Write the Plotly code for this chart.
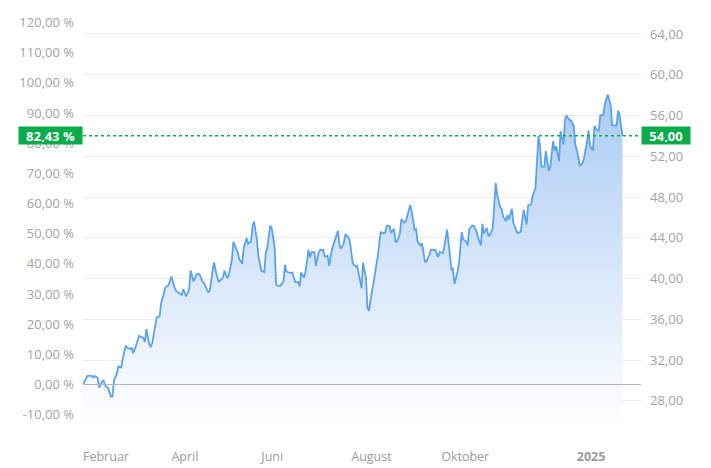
import pandas as pd
import plotly.graph_objects as go

# ---- data ----
start_date = "2024-02-01"
day_offsets = [0,3,6,7,8,10,11,13,14,15,17,19,20,21,23,24,26,27,29,30,32,33,34,36,38,41,42,43,45,46,47,49,50,52,53,55,56,58,59,60,
               62,63,65,67,68,70,72,73,75,76,77,79,81,82,83,85,86,88,89,90,92,94,95,96,98,99,101,102,104,105,106,108,109,111,112,114,115,116,118,119,
               121,123,124,125,127,128,130,131,132,134,136,137,138,140,141,142,144,146,147,148,150,151,153,154,155,157,158,160,161,163,164,166,167,169,170,171,173,174,175,177,
               178,180,181,183,185,186,188,189,190,192,193,194,196,197,199,200,202,203,205,206,208,209,211,212,213,215,216,218,219,221,222,223,225,226,227,229,230,232,233,235,
               236,238,239,241,242,244,245,247,248,250,251,252,254,255,257,258,260,261,262,264,265,267,268,270,271,272,274,275,276,278,280,281,283,284,285,287,288,289,291,292,
               294,295,297,298,299,301,302,304,305,307,308,309,310,311,313,314,316,317,319,320,321,323,324,326,327,328,330,331,333,334,336,337,339,340,342,343,344,346,347,349,
               350,351,353,354,356,358,359,360,362,363,364,366]
prices = [29.60,30.45,30.45,30.29,30.45,30.23,29.31,29.89,29.99,29.50,29.25,28.42,28.42,29.99,30.72,31.37,31.27,32.19,33.40,33.23,
          33.07,33.23,32.68,33.40,34.38,34.15,33.76,35.04,33.50,33.33,33.66,35.29,36.21,36.27,37.59,38.57,39.16,39.35,39.71,40.20,
          39.16,38.82,38.57,38.40,38.96,38.24,38.89,40.79,39.71,40.20,40.43,40.43,39.71,39.61,39.22,38.67,38.79,40.86,41.57,40.76,
          39.65,39.94,40.14,40.76,40.04,40.37,41.84,43.60,42.82,42.59,41.91,41.44,42.99,43.97,43.41,43.63,45.10,45.60,43.80,42.16,
          40.76,40.63,42.49,42.99,45.20,44.95,43.14,39.45,39.29,39.31,39.71,41.35,40.69,40.63,40.53,40.59,39.65,39.65,39.22,40.59,
          40.10,40.69,42.82,42.06,42.59,42.59,41.25,42.59,42.82,42.82,42.16,42.23,41.25,42.92,43.31,43.90,44.68,43.31,42.92,43.48,
          44.36,44.06,43.70,41.51,41.18,41.25,39.87,39.06,41.57,40.04,37.10,36.83,38.73,39.45,41.35,42.16,44.61,44.46,44.46,45.17,
          45.17,44.46,44.88,43.63,43.63,44.36,45.83,45.50,45.60,46.91,47.23,46.58,44.78,44.85,43.63,43.24,43.48,41.67,41.67,42.33,
          42.82,42.82,42.82,42.11,42.59,42.49,43.01,44.81,43.34,40.89,40.95,39.48,40.56,41.38,44.58,43.83,43.60,43.24,44.81,45.20,
          45.20,44.65,44.00,43.28,45.37,44.42,44.98,44.22,44.22,44.98,49.39,48.25,47.01,46.87,46.13,45.63,46.22,45.79,46.84,45.47,
          44.71,44.46,44.58,45.79,46.77,45.30,47.20,47.26,48.09,48.90,52.17,53.98,53.15,50.99,50.99,52.50,50.54,50.93,53.49,52.56,
          53.00,51.52,54.47,53.15,55.55,56.00,55.55,55.55,54.96,53.15,52.01,51.03,51.36,51.85,53.49,54.53,53.00,52.56,54.96,54.53,
          54.53,56.04,56.04,57.08,58.06,57.08,55.02,55.02,55.02,56.49,56.10,54.00]

base_price = 29.60          # price at 0 %
last_price = 54.00
last_pct_text = "82,43 %"
last_price_text = "54,00"

price_ticks = [28, 32, 36, 40, 44, 48, 52, 56, 60, 64]
price_tick_text = ["28,00", "32,00", "36,00", "40,00", "44,00", "48,00", "52,00", "56,00", "60,00", "64,00"]
pct_ticks = [-10, 0, 10, 20, 30, 40, 50, 60, 70, 80, 90, 100, 110, 120]
pct_tick_text = ["-10,00 %", "0,00 %", "10,00 %", "20,00 %", "30,00 %", "40,00 %", "50,00 %", "60,00 %",
                 "70,00 %", "80,00 %", "90,00 %", "100,00 %", "110,00 %", "120,00 %"]
month_ticks = ["2024-02-01", "2024-04-01", "2024-06-01", "2024-08-01", "2024-10-01", "2025-01-01"]
month_tick_text = ["Februar", "April", "Juni", "August", "Oktober", "<b>2025</b>"]

# ---- figure ----
dates = pd.Timestamp(start_date) + pd.to_timedelta(day_offsets, unit="D")
price_range = [25.63, 65.86]
pct_range = [(v / base_price - 1) * 100 for v in price_range]

FONT = "Open Sans"
GRAY = "#a3a3a3"
GREEN = "#0aab4b"

fig = go.Figure()
fig.add_trace(go.Scatter(
    x=dates, y=prices, mode="lines",
    line=dict(color="#5aa2ee", width=1.8),
    fill="tozeroy",
    fillgradient=dict(type="vertical", start=price_range[0], stop=58.2,
                      colorscale=[[0, "rgba(255,255,255,1)"], [1, "rgb(170,203,244)"]]),
    hoverinfo="skip", showlegend=False,
))
# invisible trace to activate left percent axis
fig.add_trace(go.Scatter(x=[dates[0]], y=[0], yaxis="y2", mode="markers",
                         marker=dict(opacity=0), hoverinfo="skip", showlegend=False))

# page body has an 8px default margin, so the figure is sized/offset to compensate
fig.update_layout(
    width=703, height=460,
    margin=dict(l=75, r=70, t=7, b=43),
    paper_bgcolor="white", plot_bgcolor="white",
    font=dict(family=FONT, size=13, color=GRAY),
    xaxis=dict(type="date", range=["2024-02-01", "2025-02-13 14:00"],
               tickvals=month_ticks, ticktext=month_tick_text,
               ticklabelposition="outside right", automargin=False,
               showgrid=False, zeroline=False, showline=False, ticks="",
               ticklabelstandoff=22,
               tickfont=dict(family=FONT, size=12.5, color="#9b9b9b")),
    yaxis=dict(side="right", range=price_range, tickvals=price_ticks, ticktext=price_tick_text,
               showgrid=True, gridcolor="#ececec", gridwidth=1, zeroline=False, showline=False,
               automargin=False,
               ticks="", ticklabelstandoff=8, tickfont=dict(family=FONT, size=13, color=GRAY)),
    yaxis2=dict(side="left", overlaying="y", range=pct_range, tickvals=pct_ticks, ticktext=pct_tick_text,
                showgrid=False, zeroline=False, showline=False, ticks="", ticklabelstandoff=8,
                automargin=False,
                tickfont=dict(family=FONT, size=13, color=GRAY)),
    shapes=[
        dict(type="line", xref="paper", x0=0, x1=1, yref="y", y0=base_price, y1=base_price,
             line=dict(color="#b3b3bb", width=1), layer="above"),
        dict(type="line", xref="paper", x0=0, x1=1, yref="y", y0=last_price, y1=last_price,
             line=dict(color=GREEN, width=1.5, dash="dot"), layer="above"),
    ],
    annotations=[
        dict(xref="paper", x=0, xanchor="right", yref="y", y=last_price, yanchor="middle",
             text="<b>" + last_pct_text + "</b>", showarrow=False, bgcolor=GREEN,
             font=dict(family=FONT, size=13, color="white"), width=59, height=13, borderpad=2, align="center"),
        dict(xref="paper", x=1, xanchor="left", yref="y", y=last_price, yanchor="middle",
             text="<b>" + last_price_text + "</b>", showarrow=False, bgcolor=GREEN,
             font=dict(family=FONT, size=13, color="white"), width=44, height=13, borderpad=2, align="center"),
    ],
)

fig.write_html("out.html")
